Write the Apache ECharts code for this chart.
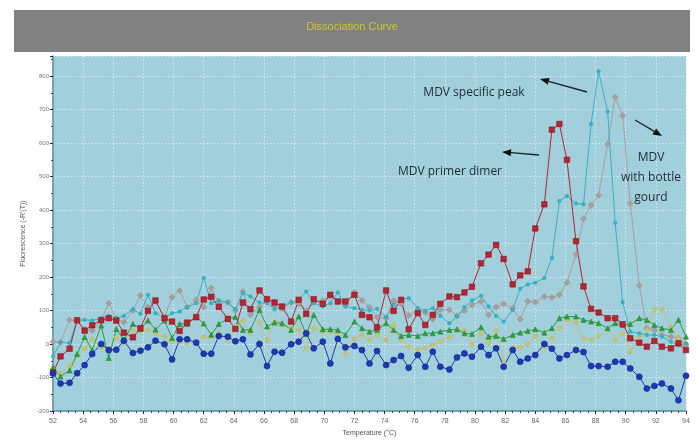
<!DOCTYPE html>
<html>
<head>
<meta charset="utf-8">
<script src="https://cdn.jsdelivr.net/npm/echarts@6/dist/echarts.min.js"></script>
<style>html,body{margin:0;padding:0;background:#fff}#c{width:696px;height:444px}</style>
</head>
<body>
<div id="c"></div>
<script>
// Temperature (°C) of each sample
const temps = [52.0, 52.5, 53.1, 53.6, 54.1, 54.6, 55.2, 55.7, 56.2, 56.7, 57.3, 57.8, 58.3, 58.8, 59.4, 59.9,
  60.4, 60.9, 61.5, 62.0, 62.5, 63.0, 63.6, 64.1, 64.6, 65.1, 65.7, 66.2, 66.7, 67.2, 67.8, 68.3,
  68.8, 69.3, 69.9, 70.4, 70.9, 71.4, 72.0, 72.5, 73.0, 73.5, 74.1, 74.6, 75.1, 75.6, 76.2, 76.7,
  77.2, 77.7, 78.3, 78.8, 79.3, 79.8, 80.4, 80.9, 81.4, 81.9, 82.5, 83.0, 83.5, 84.0, 84.6, 85.1,
  85.6, 86.1, 86.7, 87.2, 87.7, 88.2, 88.8, 89.3, 89.8, 90.3, 90.9, 91.4, 91.9, 92.4, 93.0, 93.5, 94.0];

const blueVals = [-88, -118, -116, -87, -63, -30, 0, -18, -17, 10,
  -27, -20, -10, 10, -1, -46, 14, 14, 4, -29,
  -29, 24, 22, 8, 14, -31, 0, -66, -23, -26,
  -1, 7, 32, -13, 7, -58, 15, -10, -6, -18,
  -58, -21, -63, -48, -36, -71, -33, -68, -23, -68,
  -76, -40, -28, -38, -8, -33, -13, -68, -18, -53,
  -43, -33, 0, -14, -43, -33, -18, -24, -66, -66,
  -68, -53, -53, -73, -98, -133, -125, -118, -133, -168, -95];

const redVals = [-85, -37, -14, 71, 40, 56, 71, 77, 70, 34,
  20, 47, 99, 130, 77, 67, 39, 64, 80, 133,
  141, 111, 75, 45, 124, 104, 160, 134, 124, 112,
  67, 132, 90, 134, 120, 147, 127, 127, 147, 87,
  80, 50, 160, 99, 132, 44, 92, 57, 87, 120,
  142, 140, 154, 171, 241, 267, 296, 254, 178, 205,
  217, 345, 417, 640, 657, 550, 307, 172, 105, 94,
  77, 77, 59, 17, 4, -8, 9, -8, -13, 2, -18];

const cyanVals = [-37, 5, 3, 71, 72, 70, 77, 84, 77, 84,
  104, 90, 147, 92, 77, 92, 97, 109, 122, 197,
  122, 130, 124, 104, 152, 142, 124, 122, 104, 112,
  124, 130, 157, 122, 112, 122, 154, 112, 107, 102,
  100, 105, 80, 117, 134, 137, 107, 99, 107, 84,
  62, 82, 110, 130, 144, 112, 84, 67, 102, 165,
  178, 183, 197, 257, 427, 442, 420, 417, 657, 814,
  694, 362, 125, 37, 32, 27, 27, 22, 7, -3, 2];

const grayVals = [7, 5, 72, 70, 45, 40, 70, 122, 75, 65,
  100, 145, 110, 127, 80, 140, 160, 110, 132, 110,
  167, 120, 125, 100, 157, 87, 110, 130, 115, 105,
  124, 120, 100, 125, 130, 142, 125, 115, 154, 130,
  110, 80, 77, 130, 120, 85, 102, 94, 74, 102,
  102, 84, 99, 117, 127, 87, 110, 120, 107, 74,
  127, 125, 142, 139, 147, 184, 267, 374, 414, 444,
  597, 737, 682, 420, 175, 47, 42, 27, 22, 17, -3];

const greenVals = [-70, -97, -79, -30, 21, -18, 55, -42, 45, 12,
  60, 45, 70, 43, 70, 18, 60, 60, 81, 61,
  28, 60, 75, 81, 42, 42, 102, 52, 64, 62,
  42, 82, 30, 87, 44, 44, 42, 27, 67, 47,
  37, 42, 62, 42, 24, 27, 24, 32, 32, 37,
  42, 44, 32, 30, 50, 22, 24, 15, 27, 34,
  39, 44, 34, 47, 77, 82, 82, 72, 67, 62,
  47, 62, 57, 60, 77, 72, 57, 47, 42, 72, 22];

const yellowVals = [-75, -88, -65, -35, -15, 14, -10, -16, 20, 4,
  40, 37, 42, 32, 22, 7, 7, 2, 7, 22,
  20, 34, 12, 54, 70, 32, 64, 12, 67, 54,
  47, 42, -13, 47, 37, 37, 27, -28, 17, 27,
  12, 27, 12, 57, 12, -8, -18, -13, -3, 7,
  20, 42, 40, -3, 32, 2, 40, -58, -10, -10,
  0, 24, -10, 17, 47, 72, 64, 17, 12, 24,
  44, 12, 32, -23, 24, 42, 104, 102, 52, 17, 2];

const titleText = 'Dissociation Curve';
const xName = 'Temperature (°C)';
const yName = "Fluorescence (-R'(T))";

function pairs(vals) { return vals.map((v, i) => [temps[i], v]); }

function mk(name, vals, color, symbol, size, border) {
  return {
    name: name, type: 'line', data: pairs(vals),
    symbol: symbol, symbolSize: size, showSymbol: true,
    lineStyle: { color: color, width: 1 },
    itemStyle: { color: color, borderColor: border || color, borderWidth: 0.6, opacity: 1 },
    emphasis: { disabled: true }, animation: false, z: 2
  };
}

const chart = echarts.init(document.getElementById('c'), null, { renderer: 'canvas' });
const grid = { left: 53, right: 10, top: 56, bottom: 33 };
const plotColor = '#a2cfdc';
const gl = { color: '#d4eaf0', type: [1.5, 2], width: 1 };

chart.setOption({
  backgroundColor: '#ffffff',
  animation: false,
  grid: Object.assign({ show: true, backgroundColor: plotColor, borderWidth: 0 }, grid),
  xAxis: {
    type: 'value', min: 52, max: 94, interval: 2,
    name: xName, nameLocation: 'middle', nameGap: 19,
    nameTextStyle: { fontSize: 7, color: '#555', fontFamily: 'Liberation Sans' },
    axisLine: { show: true, onZero: false, lineStyle: { color: '#5a8a98', width: 1.5 } },
    axisTick: { show: true, length: 3, lineStyle: { color: '#223' } },
    minorTick: { show: true, splitNumber: 4, length: 2, lineStyle: { color: '#446' } },
    axisLabel: { fontSize: 7, color: '#666', margin: 7, fontFamily: 'Liberation Sans' },
    splitLine: { show: true, lineStyle: gl }
  },
  yAxis: {
    type: 'value', min: -200, max: 860, interval: 100,
    name: yName, nameLocation: 'middle', nameGap: 20,
    nameTextStyle: { fontSize: 7, color: '#555', fontFamily: 'Liberation Sans' },
    axisLine: { show: true, lineStyle: { color: '#5a8a98', width: 1.5 } },
    axisTick: { show: true, length: 3, lineStyle: { color: '#223' } },
    minorTick: { show: true, splitNumber: 2, length: 2, lineStyle: { color: '#446' } },
    axisLabel: { fontSize: 6, color: '#777', margin: 4, showMaxLabel: false, fontFamily: 'Liberation Sans' },
    splitLine: { show: true, lineStyle: gl }
  },
  series: [
    mk('gray', grayVals, '#a89e9e', 'diamond', 6, '#9a8f8f'),
    mk('yellow', yellowVals, '#c9c46a', 'diamond', 5, '#b8b35a'),
    mk('cyan', cyanVals, '#35b4c4', 'circle', 3.5, '#2aa6b6'),
    mk('green', greenVals, '#2f9e3c', 'triangle', 5, '#228a30'),
    mk('red', redVals, '#b42432', 'rect', 5.5, '#8e1a24'),
    mk('blue', blueVals, '#1e38b0', 'circle', 6, '#122890')
  ],
  graphic: [
    { type: 'rect', shape: { x: 14, y: 10, width: 676, height: 42 }, style: { fill: '#818181' }, z: 10 },
    { type: 'text', x: 352, y: 27, style: { text: titleText, fill: '#cfc62a', font: '11px "Liberation Sans"', textAlign: 'center', textVerticalAlign: 'middle' }, z: 11 },
    { type: 'text', x: 474, y: 93, style: { text: 'MDV specific peak', fill: '#1d2b38', font: '12px "Open Sans"', textAlign: 'center', textVerticalAlign: 'middle' }, z: 11 },
    { type: 'text', x: 450, y: 172, style: { text: 'MDV primer dimer', fill: '#1d2b38', font: '12px "Open Sans"', textAlign: 'center', textVerticalAlign: 'middle' }, z: 11 },
    { type: 'text', x: 651, y: 178, style: { text: 'MDV\nwith bottle\ngourd', fill: '#1d2b38', font: '12px "Open Sans"', textAlign: 'center', textVerticalAlign: 'middle', lineHeight: 20 }, z: 11 },
    { type: 'line', shape: { x1: 587, y1: 92, x2: 548.7, y2: 81.4 }, style: { stroke: '#1a2430', lineWidth: 1.3 }, z: 11 },
    { type: 'polygon', shape: { points: [[540, 79], [549.6, 78.0], [547.8, 84.8]] }, style: { fill: '#111' }, z: 11 },
    { type: 'line', shape: { x1: 539, y1: 155, x2: 511, y2: 152.7 }, style: { stroke: '#1a2430', lineWidth: 1.3 }, z: 11 },
    { type: 'polygon', shape: { points: [[502, 152], [511.3, 149.2], [510.7, 156.2]] }, style: { fill: '#111' }, z: 11 },
    { type: 'line', shape: { x1: 635, y1: 120, x2: 654.3, y2: 131.4 }, style: { stroke: '#1a2430', lineWidth: 1.3 }, z: 11 },
    { type: 'polygon', shape: { points: [[662, 136], [652.5, 134.4], [656.1, 128.4]] }, style: { fill: '#111' }, z: 11 }
  ]
});
</script>
</body>
</html>
